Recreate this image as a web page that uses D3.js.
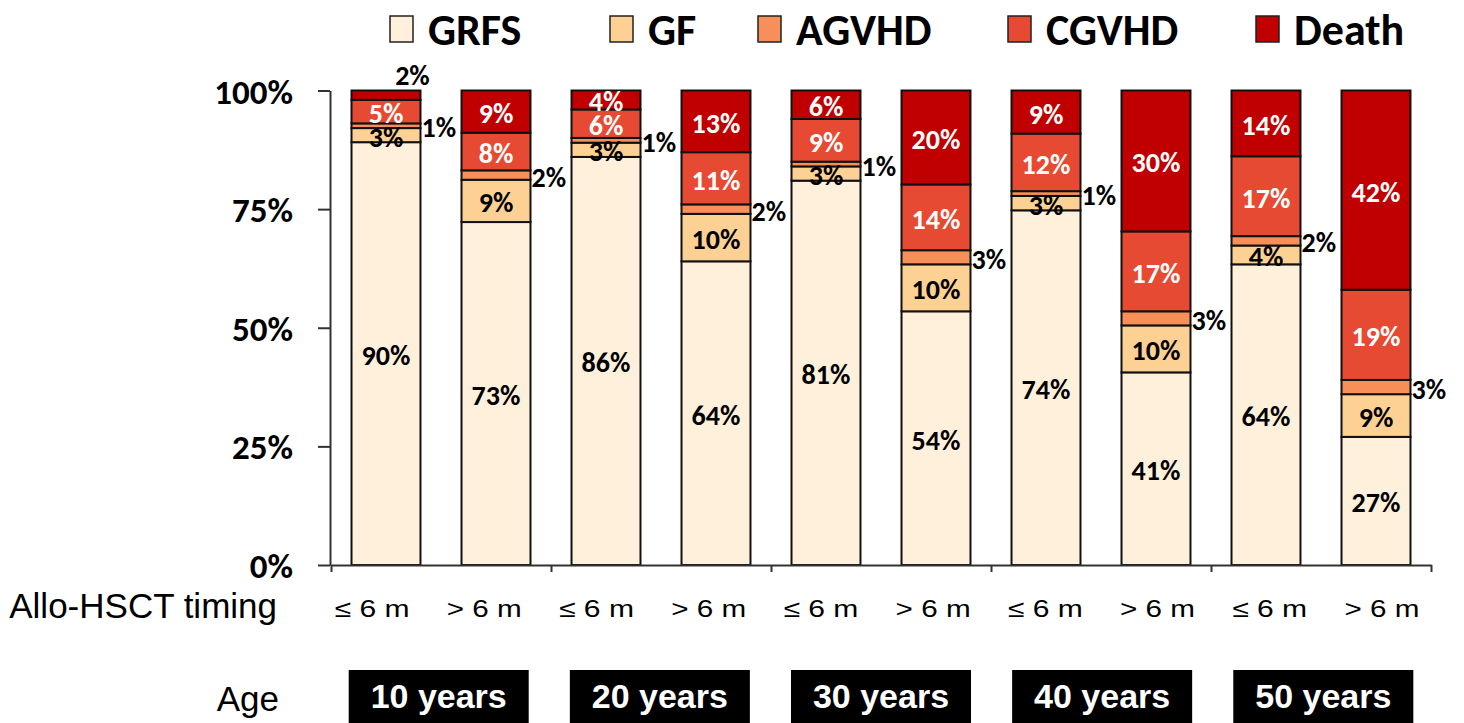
<!DOCTYPE html>
<html>
<head>
<meta charset="utf-8">
<script src="https://cdn.jsdelivr.net/npm/d3@7/dist/d3.min.js"></script>
<style>
  html, body { margin: 0; padding: 0; background: #fff; }
  svg { display: block; }
</style>
</head>
<body>
<svg id="chart" width="1464" height="723"></svg>
<script>
// ---------- DATA ----------
const ageGroups = ["10 years", "20 years", "30 years", "40 years", "50 years"];
const categories = ["10y-early", "10y-late", "20y-early", "20y-late", "30y-early", "30y-late", "40y-early", "40y-late", "50y-early", "50y-late"];
const timingLabels = ["≤ 6 m", "> 6 m", "≤ 6 m", "> 6 m", "≤ 6 m", "> 6 m", "≤ 6 m", "> 6 m", "≤ 6 m", "> 6 m"];
const seriesNames = ["GRFS", "GF", "AGVHD", "CGVHD", "Death"];
const GRFS  = [90, 73, 86, 64, 81, 54, 74, 41, 64, 27];
const GF    = [3, 9, 3, 10, 3, 10, 3, 10, 4, 9];
const AGVHD = [1, 2, 1, 2, 1, 3, 1, 3, 2, 3];
const CGVHD = [5, 8, 6, 11, 9, 14, 12, 17, 17, 19];
const Death = [2, 9, 4, 13, 6, 20, 9, 30, 14, 42];
const yTickValues = [0, 0.25, 0.5, 0.75, 1];
const yTickLabels = ["0%", "25%", "50%", "75%", "100%"];

// ---------- STYLE / LAYOUT ----------
const colors = ["#FEF0DB", "#FDD193", "#F98F58", "#E64A32", "#C00000"];
const boldFont = "Carlito, Lato, 'Open Sans', sans-serif";
const plainFont = "'Liberation Sans', Arial, sans-serif";
const legendX = [390, 610, 758, 1008, 1256]; // legend item box positions

const seriesValues = [GRFS, GF, AGVHD, CGVHD, Death];
const table = categories.map((c, i) => {
  const row = { cat: c, timing: timingLabels[i] };
  seriesNames.forEach((s, k) => row[s] = seriesValues[k][i]);
  return row;
});

const svg = d3.select("#chart");

const y = d3.scaleLinear().domain([0, 1]).range([565, 90.5]);
const x = d3.scaleBand().domain(categories).range([331, 1431])
  .paddingInner(0.373).paddingOuter(0.1865);
const xLabel = d3.scaleBand().domain(d3.range(categories.length)).range([316, 1438]);
const groupLin = d3.scaleLinear().domain([0, ageGroups.length]).range([331, 1431]);
const groupBand = d3.scaleBand().domain(ageGroups).range([331, 1431])
  .paddingInner(0.186).paddingOuter(0.08);
const color = d3.scaleOrdinal().domain(seriesNames).range(colors);

const stack = d3.stack().keys(seriesNames).offset(d3.stackOffsetExpand);
const stacked = stack(table);

// ---------- BARS ----------
const layers = svg.append("g").selectAll("g").data(stacked).join("g")
  .attr("fill", d => color(d.key));
layers.selectAll("rect").data(d => d).join("rect")
  .attr("x", d => x(d.data.cat))
  .attr("width", x.bandwidth())
  .attr("y", d => y(d[1]))
  .attr("height", d => y(d[0]) - y(d[1]))
  .attr("stroke", "#111")
  .attr("stroke-width", 2);

// ---------- AXES ----------
const yAxis = d3.axisLeft(y).tickValues(yTickValues)
  .tickFormat((d, i) => yTickLabels[i]).tickSize(12).tickSizeOuter(0).tickPadding(25);
const gy = svg.append("g").attr("transform", "translate(330,0)").call(yAxis);
gy.select(".domain").attr("stroke", "#333").attr("stroke-width", 2);
gy.selectAll(".tick line").attr("stroke", "#333").attr("stroke-width", 2);
gy.selectAll("text").attr("font-family", boldFont).attr("font-weight", "bold")
  .attr("font-size", 35).attr("fill", "#000").attr("dy", "0.36em");

const xAxis = d3.axisBottom(groupLin).tickValues(d3.range(ageGroups.length + 1))
  .tickFormat("").tickSize(7).tickSizeOuter(0);
const gx = svg.append("g").attr("transform", "translate(0,565)").call(xAxis);
gx.select(".domain").attr("stroke", "#333").attr("stroke-width", 2);
gx.selectAll(".tick line").attr("stroke", "#333").attr("stroke-width", 2);

// ---------- SEGMENT LABELS ----------
const labelG = svg.append("g").attr("font-family", boldFont).attr("font-weight", "bold")
  .attr("font-size", 28);
stacked.forEach((layer, k) => {
  const key = layer.key;
  layer.forEach(d => {
    const val = d.data[key];
    const mid = (y(d[0]) + y(d[1])) / 2 + 2;
    let tx = x(d.data.cat) + x.bandwidth() / 2, ty = mid, anchor = "middle", fill = "#000";
    if (key === "AGVHD") {
      tx = x(d.data.cat) + x.bandwidth() + 1; anchor = "start";
    } else if (key === "CGVHD" || key === "Death") {
      fill = "#fff";
      if (key === "Death" && val < 3) {
        fill = "#000"; tx = x(d.data.cat) + x.bandwidth() - 8; ty = y(d[1]) - 15;
      }
    }
    labelG.append("text").attr("x", tx).attr("y", ty)
      .attr("text-anchor", anchor).attr("dominant-baseline", "central")
      .attr("fill", fill).text(val + "%");
  });
});

// ---------- TIMING LABELS ----------
svg.append("text").attr("x", 277).attr("y", 618).attr("text-anchor", "end")
  .attr("font-family", plainFont).attr("font-size", 35).attr("fill", "#000")
  .text("Allo-HSCT timing");
svg.append("g").selectAll("text").data(timingLabels).join("text")
  .attr("x", (d, i) => xLabel(i) + xLabel.bandwidth() / 2 - 37.5)
  .attr("y", 617)
  .attr("font-family", plainFont).attr("font-size", 24).attr("fill", "#000")
  .attr("textLength", 75).attr("lengthAdjust", "spacingAndGlyphs")
  .text(d => d);

// ---------- AGE BOXES ----------
svg.append("text").attr("x", 279).attr("y", 711).attr("text-anchor", "end")
  .attr("font-family", plainFont).attr("font-size", 35).attr("fill", "#000")
  .text("Age");
const ageG = svg.append("g").selectAll("g").data(ageGroups).join("g");
ageG.append("rect").attr("x", d => groupBand(d)).attr("y", 670)
  .attr("width", groupBand.bandwidth()).attr("height", 60).attr("fill", "#000");
ageG.append("text").attr("x", d => groupBand(d) + groupBand.bandwidth() / 2).attr("y", 708)
  .attr("text-anchor", "middle").attr("font-family", plainFont).attr("font-weight", "bold")
  .attr("font-size", 34).attr("fill", "#fff").text(d => d);

// ---------- LEGEND ----------
const leg = svg.append("g").selectAll("g").data(seriesNames).join("g")
  .attr("transform", (d, i) => `translate(${legendX[i]},16)`);
leg.append("rect").attr("width", 23).attr("height", 26)
  .attr("fill", d => color(d)).attr("stroke", "#222").attr("stroke-width", 1.5);
leg.append("text").attr("x", 38).attr("y", 14).attr("dominant-baseline", "central")
  .attr("font-family", boldFont).attr("font-weight", 900).attr("font-size", 44)
  .attr("fill", "#000").text(d => d);
</script>
</body>
</html>
